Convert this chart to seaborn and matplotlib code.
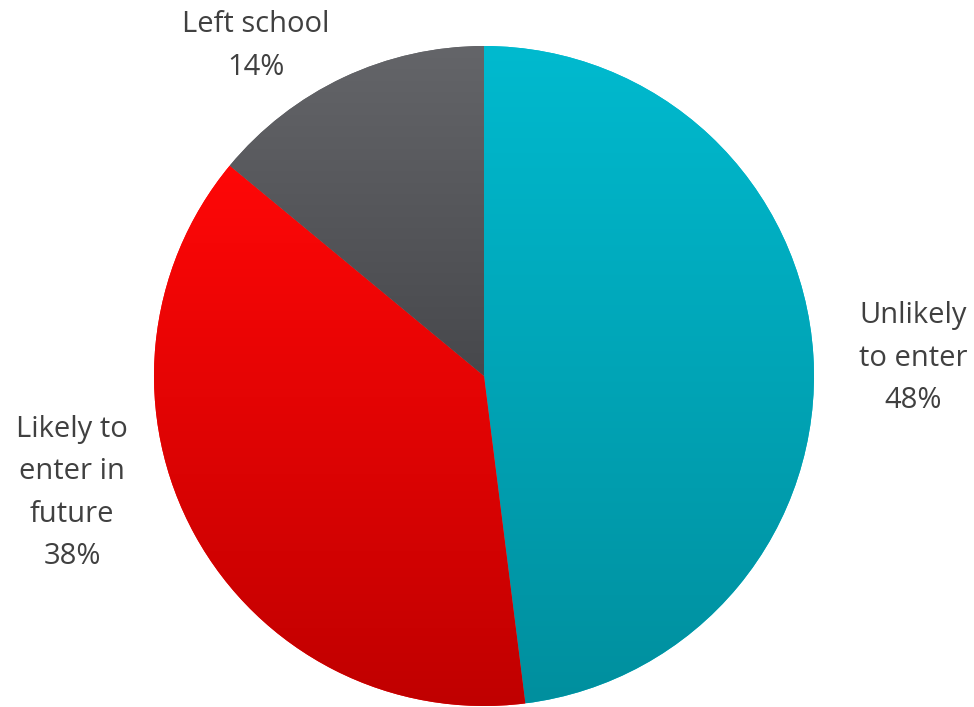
import numpy as np
import matplotlib
matplotlib.use("Agg")
import matplotlib.pyplot as plt
import seaborn as sns
from matplotlib.colors import LinearSegmentedColormap

categories = ["Unlikely\nto enter", "Likely to\nenter in\nfuture", "Left school"]
values = [48, 38, 14]
top_colors = ["#00BACF", "#FF0707", "#646569"]
bottom_colors = ["#008F9E", "#C00000", "#47484C"]

sns.set_theme(style="white")
plt.rcParams["font.family"] = ["Open Sans", "DejaVu Sans"]

W, H = 974, 707
fig = plt.figure(figsize=(W / 100, H / 100), dpi=100)
ax = fig.add_axes([0, 0, 1, 1])

cx, cy, r = 484, H - 376, 330

wedges, _ = ax.pie(values, startangle=90, counterclock=False, center=(cx, cy),
                   radius=r, frame=True, colors=top_colors,
                   wedgeprops=dict(linewidth=0))
ax.set_xlim(0, W)
ax.set_ylim(0, H)
ax.set_aspect("equal")
ax.axis("off")

grad = np.linspace(0, 1, 256).reshape(-1, 1)
for w, tc, bc in zip(wedges, top_colors, bottom_colors):
    bb = w.get_path().get_extents(w.get_patch_transform())
    cmap = LinearSegmentedColormap.from_list("g", [bc, tc])
    im = ax.imshow(grad, cmap=cmap, aspect="auto", origin="lower",
                   extent=[bb.x0, bb.x1, bb.y0, bb.y1], zorder=2)
    im.set_clip_path(w)

# labels
label_pos = [(913, 358), (72, 493), (256, 46)]
for cat, v, (lx, ly) in zip(categories, values, label_pos):
    ax.text(lx, H - ly, f"{cat}\n{v}%", ha="center", va="center",
            fontsize=21, color="#404040", linespacing=1.62, zorder=5)

fig.savefig("out.png", dpi=100)
